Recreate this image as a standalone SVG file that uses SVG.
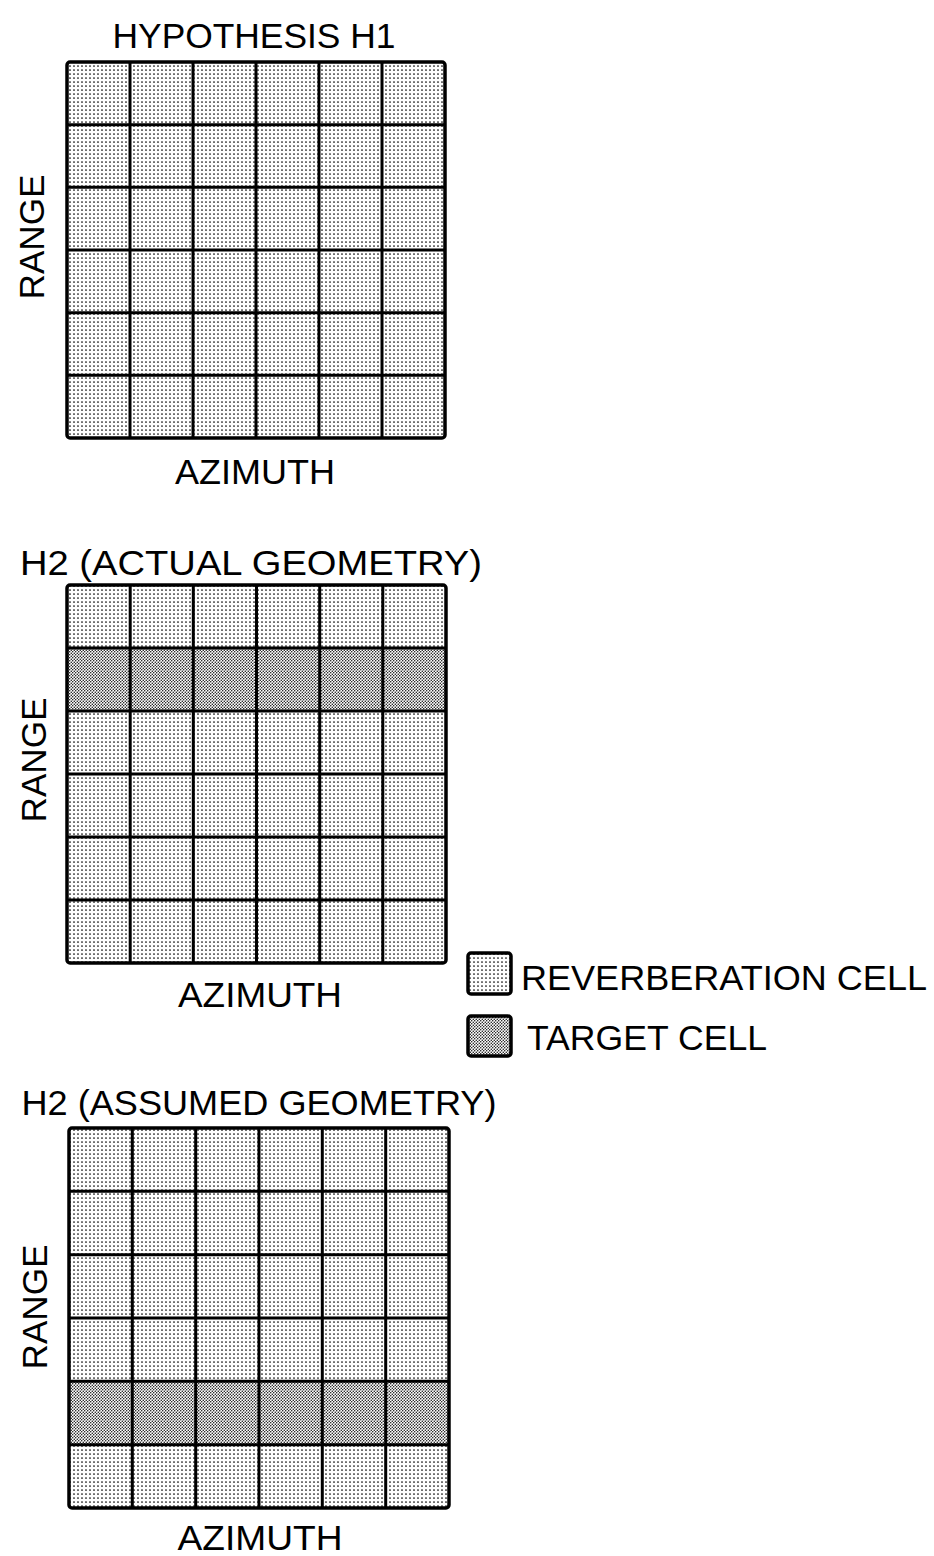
<svg xmlns="http://www.w3.org/2000/svg" width="934" height="1556" viewBox="0 0 934 1556">
<style>
.t{font-family:"Liberation Sans","DejaVu Sans",sans-serif;font-size:35px;fill:#000}
.g{fill:none;stroke:#000;stroke-width:3;stroke-linejoin:round}
.o{fill:none;stroke:#000;stroke-width:3.5;stroke-linejoin:round}
.rev{fill:url(#pRev)}
.tgt{fill:url(#pTgt)}
</style>
<defs>
<pattern id="pRev" width="4" height="4" patternUnits="userSpaceOnUse">
<rect width="4" height="4" fill="#fff"/>
<circle cx="2" cy="2" r="0.85" fill="#000"/>
</pattern>
<pattern id="pTgt" width="3" height="3" patternUnits="userSpaceOnUse">
<rect width="3" height="3" fill="#fff"/>
<circle cx="0.75" cy="0.75" r="0.72" fill="#000"/>
<circle cx="2.25" cy="2.25" r="0.72" fill="#000"/>
</pattern>
</defs>
<rect width="934" height="1556" fill="#fff"/>

<g id="grid1">
<text class="t" x="254" y="48" text-anchor="middle" textLength="283" lengthAdjust="spacingAndGlyphs">HYPOTHESIS H1</text>
<rect class="rev" x="67" y="62" width="378" height="376"/>
<path class="g" d="M130 62V438M193 62V438M256 62V438M319 62V438M382 62V438M67 124.7H445M67 187.3H445M67 250H445M67 312.7H445M67 375.3H445"/>
<rect class="o" x="67" y="62" width="378" height="376" rx="3"/>
<text class="t" transform="translate(44,237) rotate(-90)" text-anchor="middle" textLength="125" lengthAdjust="spacingAndGlyphs">RANGE</text>
<text class="t" x="255" y="484" text-anchor="middle" textLength="160" lengthAdjust="spacingAndGlyphs">AZIMUTH</text>
</g>

<g id="grid2">
<text class="t" x="251" y="575" text-anchor="middle" textLength="462" lengthAdjust="spacingAndGlyphs">H2 (ACTUAL GEOMETRY)</text>
<rect class="rev" x="67" y="585" width="379" height="378"/>
<rect class="tgt" x="67" y="648" width="379" height="63"/>
<path class="g" d="M130.2 585V963M193.3 585V963M256.5 585V963M319.7 585V963M382.8 585V963M67 648H446M67 711H446M67 774H446M67 837H446M67 900H446"/>
<rect class="o" x="67" y="585" width="379" height="378" rx="3"/>
<text class="t" transform="translate(46,760) rotate(-90)" text-anchor="middle" textLength="125" lengthAdjust="spacingAndGlyphs">RANGE</text>
<text class="t" x="260" y="1007" text-anchor="middle" textLength="164" lengthAdjust="spacingAndGlyphs">AZIMUTH</text>
</g>

<g id="legend">
<rect class="rev" x="468" y="953" width="43" height="41"/>
<rect class="o" x="468" y="953" width="43" height="41" rx="3"/>
<text class="t" x="521" y="990" textLength="406" lengthAdjust="spacingAndGlyphs">REVERBERATION CELL</text>
<rect class="tgt" x="468" y="1016" width="43" height="40"/>
<rect class="o" x="468" y="1016" width="43" height="40" rx="3"/>
<text class="t" x="527" y="1050" textLength="240" lengthAdjust="spacingAndGlyphs">TARGET CELL</text>
</g>

<g id="grid3">
<text class="t" x="259" y="1115" text-anchor="middle" textLength="475" lengthAdjust="spacingAndGlyphs">H2 (ASSUMED GEOMETRY)</text>
<rect class="rev" x="69" y="1128" width="380" height="380"/>
<rect class="tgt" x="69" y="1381.3" width="380" height="63.4"/>
<path class="g" d="M132.3 1128V1508M195.7 1128V1508M259 1128V1508M322.3 1128V1508M385.7 1128V1508M69 1191.3H449M69 1254.7H449M69 1318H449M69 1381.3H449M69 1444.7H449"/>
<rect class="o" x="69" y="1128" width="380" height="380" rx="3"/>
<text class="t" transform="translate(47,1307) rotate(-90)" text-anchor="middle" textLength="125" lengthAdjust="spacingAndGlyphs">RANGE</text>
<text class="t" x="260" y="1550" text-anchor="middle" textLength="165" lengthAdjust="spacingAndGlyphs">AZIMUTH</text>
</g>
</svg>
